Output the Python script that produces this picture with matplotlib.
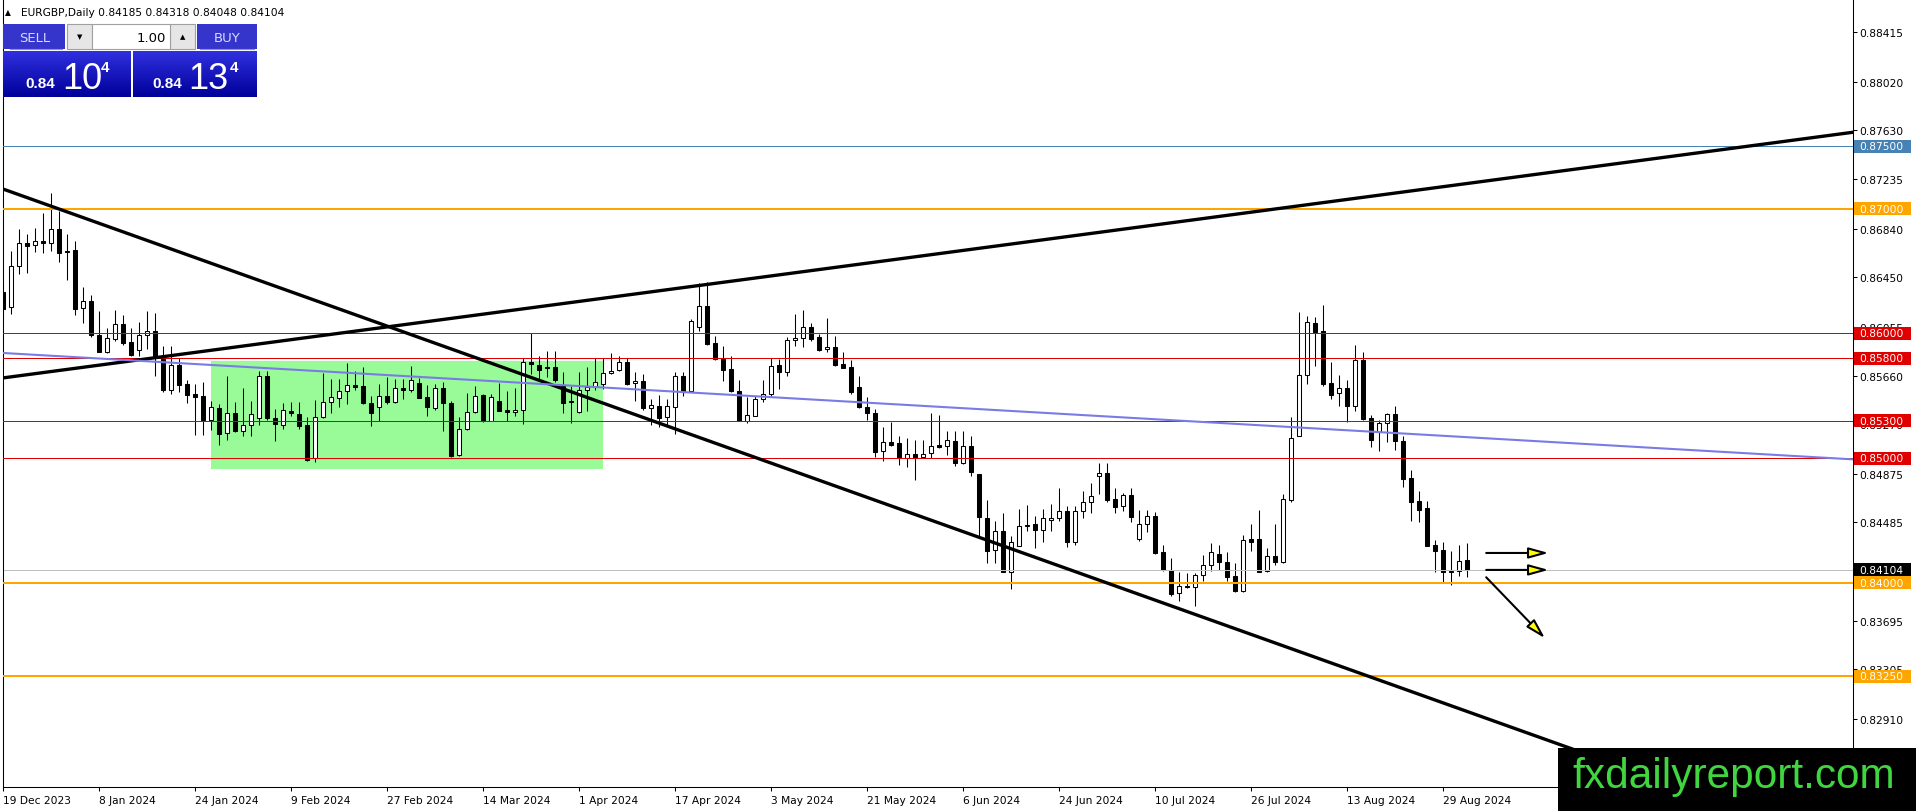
from datetime import datetime
import numpy as np
import pandas as pd
import matplotlib
matplotlib.use("Agg")
import matplotlib.pyplot as plt
from matplotlib.patches import Rectangle

W, H, DPI = 1916, 812, 100
plt.rcParams['font.family'] = ['DejaVu Sans']

# ---- chart data ----
symbol = "EURGBP,Daily"
holidays = ["2023-12-25", "2024-01-01"]
first_day, last_day = "2023-12-19", "2024-09-03"

opens = [0.86332, 0.86209, 0.86538, 0.86723, 0.86709, 0.86741, 0.86723, 0.86837, 0.86663, 0.86669,
         0.86201, 0.86258, 0.85987, 0.85853, 0.85955, 0.86075, 0.85929, 0.85869, 0.85990, 0.86022,
         0.85795, 0.85549, 0.85747, 0.85594, 0.85514, 0.85496, 0.85308, 0.85399, 0.85199, 0.85359,
         0.85220, 0.85268, 0.85319, 0.85661, 0.85319, 0.85268, 0.85375, 0.85354, 0.85266, 0.84998,
         0.85327, 0.85452, 0.85480, 0.85536, 0.85586, 0.85576, 0.85440, 0.85407, 0.85500, 0.85448,
         0.85560, 0.85546, 0.85600, 0.85488, 0.85402, 0.85560, 0.85440, 0.85025, 0.85236, 0.85367,
         0.85508, 0.85300, 0.85456, 0.85386, 0.85367, 0.85386, 0.85773, 0.85747, 0.85733, 0.85728,
         0.85581, 0.85448, 0.85367, 0.85549, 0.85581, 0.85594, 0.85680, 0.85709, 0.85768, 0.85600,
         0.85621, 0.85399, 0.85420, 0.85327, 0.85407, 0.85656, 0.85536, 0.86054, 0.86222, 0.85921,
         0.85800, 0.85715, 0.85541, 0.85295, 0.85340, 0.85474, 0.85514, 0.85747, 0.85688, 0.85947,
         0.85961, 0.86049, 0.85969, 0.85875, 0.85889, 0.85755, 0.85728, 0.85568, 0.85407, 0.85362,
         0.85059, 0.85127, 0.85121, 0.84998, 0.85033, 0.85006, 0.85039, 0.85105, 0.85095, 0.85140,
         0.84958, 0.85095, 0.84872, 0.84520, 0.84263, 0.84413, 0.84089, 0.84298, 0.84454, 0.84472,
         0.84426, 0.84506, 0.84520, 0.84573, 0.84330, 0.84573, 0.84646, 0.84856, 0.84882, 0.84672,
         0.84613, 0.84704, 0.84348, 0.84469, 0.84533, 0.84245, 0.84105, 0.83916, 0.83977, 0.83964,
         0.84065, 0.84145, 0.84231, 0.84165, 0.84057, 0.83937, 0.84351, 0.84351, 0.84097, 0.84213,
         0.84170, 0.84666, 0.85175, 0.85669, 0.86083, 0.86017, 0.85600, 0.85520, 0.85560, 0.85420,
         0.85787, 0.85319, 0.85207, 0.85282, 0.85354, 0.85140, 0.84841, 0.84658, 0.84597, 0.84303,
         0.84263, 0.84084, 0.84097, 0.84185]
highs = [0.86396, 0.86663, 0.86837, 0.86797, 0.86843, 0.86966, 0.87126, 0.86984, 0.86797, 0.86741,
         0.86370, 0.86308, 0.86182, 0.86043, 0.86188, 0.86148, 0.86041, 0.86094, 0.86177, 0.86161,
         0.85901, 0.85901, 0.85800, 0.85629, 0.85594, 0.85613, 0.85460, 0.85434, 0.85656, 0.85452,
         0.85560, 0.85460, 0.85701, 0.85701, 0.85394, 0.85442, 0.85452, 0.85452, 0.85327, 0.85466,
         0.85682, 0.85634, 0.85634, 0.85763, 0.85701, 0.85729, 0.85496, 0.85594, 0.85648, 0.85634,
         0.85634, 0.85737, 0.85640, 0.85586, 0.85594, 0.85608, 0.85460, 0.85327, 0.85520, 0.85576,
         0.85514, 0.85514, 0.85602, 0.85541, 0.85560, 0.85800, 0.86003, 0.85821, 0.85857, 0.85857,
         0.85688, 0.85581, 0.85688, 0.85728, 0.85800, 0.85800, 0.85841, 0.85821, 0.85800, 0.85688,
         0.85675, 0.85474, 0.85506, 0.85474, 0.85693, 0.85688, 0.86116, 0.86404, 0.86409, 0.85977,
         0.85897, 0.85816, 0.85629, 0.85488, 0.85496, 0.85629, 0.85800, 0.85795, 0.85969, 0.86156,
         0.86190, 0.86083, 0.85995, 0.86121, 0.85982, 0.85853, 0.85789, 0.85656, 0.85488, 0.85394,
         0.85247, 0.85287, 0.85175, 0.85159, 0.85148, 0.85148, 0.85362, 0.85346, 0.85220, 0.85220,
         0.85220, 0.85180, 0.84872, 0.84664, 0.84498, 0.84557, 0.84373, 0.84592, 0.84624, 0.84533,
         0.84592, 0.84632, 0.84758, 0.84613, 0.84613, 0.84739, 0.84800, 0.84962, 0.84957, 0.84758,
         0.84720, 0.84758, 0.84584, 0.84586, 0.84570, 0.84303, 0.84196, 0.84089, 0.84079, 0.84079,
         0.84220, 0.84319, 0.84305, 0.84245, 0.84160, 0.84383, 0.84472, 0.84586, 0.84277, 0.84472,
         0.84712, 0.85327, 0.86169, 0.86137, 0.86129, 0.86228, 0.85768, 0.85666, 0.85629, 0.85907,
         0.85848, 0.85346, 0.85308, 0.85362, 0.85418, 0.85180, 0.84904, 0.84734, 0.84654, 0.84346,
         0.84325, 0.84258, 0.84303, 0.84318]
lows = [0.86132, 0.86156, 0.86477, 0.86485, 0.86655, 0.86645, 0.86663, 0.86575, 0.86431, 0.86148,
        0.86084, 0.85969, 0.85849, 0.85843, 0.85937, 0.85907, 0.85821, 0.85821, 0.85875, 0.85661,
        0.85528, 0.85514, 0.85528, 0.85442, 0.85185, 0.85185, 0.85228, 0.85107, 0.85147, 0.85207,
        0.85180, 0.85180, 0.85266, 0.85308, 0.85139, 0.85236, 0.85335, 0.85236, 0.84979, 0.84966,
        0.85319, 0.85362, 0.85407, 0.85434, 0.85549, 0.85434, 0.85260, 0.85295, 0.85434, 0.85442,
        0.85474, 0.85528, 0.85480, 0.85335, 0.85388, 0.85220, 0.85010, 0.85019, 0.85226, 0.85362,
        0.85287, 0.85295, 0.85375, 0.85300, 0.85335, 0.85273, 0.85675, 0.85634, 0.85648, 0.85613,
        0.85362, 0.85282, 0.85362, 0.85380, 0.85549, 0.85554, 0.85675, 0.85701, 0.85586, 0.85460,
        0.85388, 0.85266, 0.85247, 0.85260, 0.85193, 0.85496, 0.85528, 0.86022, 0.85907, 0.85789,
        0.85621, 0.85528, 0.85295, 0.85282, 0.85335, 0.85452, 0.85500, 0.85554, 0.85656, 0.85901,
        0.85889, 0.85941, 0.85861, 0.85849, 0.85736, 0.85720, 0.85514, 0.85399, 0.85308, 0.85006,
        0.84979, 0.85099, 0.84945, 0.84926, 0.84822, 0.84998, 0.84998, 0.85079, 0.85025, 0.84939,
        0.84953, 0.84854, 0.84365, 0.84157, 0.84157, 0.84084, 0.83954, 0.84293, 0.84418, 0.84276,
        0.84325, 0.84418, 0.84498, 0.84284, 0.84303, 0.84517, 0.84560, 0.84712, 0.84646, 0.84560,
        0.84578, 0.84490, 0.84337, 0.84405, 0.84231, 0.84097, 0.83892, 0.83856, 0.83956, 0.83811,
        0.84011, 0.84097, 0.84105, 0.84011, 0.83924, 0.83929, 0.84258, 0.84089, 0.84084, 0.84143,
        0.84159, 0.84646, 0.85175, 0.85594, 0.85736, 0.85576, 0.85474, 0.85415, 0.85287, 0.85380,
        0.85306, 0.85087, 0.85059, 0.85132, 0.85067, 0.84766, 0.84498, 0.84485, 0.84293, 0.84084,
        0.84009, 0.83982, 0.84051, 0.84048]
closes = [0.86196, 0.86538, 0.86723, 0.86699, 0.86739, 0.86725, 0.86837, 0.86645, 0.86651, 0.86196,
          0.86258, 0.85987, 0.85853, 0.85961, 0.86075, 0.85923, 0.85827, 0.85990, 0.86022, 0.85800,
          0.85549, 0.85747, 0.85589, 0.85508, 0.85492, 0.85308, 0.85407, 0.85193, 0.85359, 0.85220,
          0.85268, 0.85351, 0.85656, 0.85319, 0.85273, 0.85386, 0.85359, 0.85260, 0.84987, 0.85327,
          0.85448, 0.85488, 0.85536, 0.85586, 0.85573, 0.85440, 0.85359, 0.85500, 0.85448, 0.85560,
          0.85546, 0.85626, 0.85484, 0.85407, 0.85560, 0.85442, 0.85014, 0.85236, 0.85367, 0.85500,
          0.85300, 0.85488, 0.85380, 0.85367, 0.85386, 0.85768, 0.85755, 0.85709, 0.85720, 0.85626,
          0.85440, 0.85460, 0.85549, 0.85568, 0.85608, 0.85680, 0.85701, 0.85768, 0.85594, 0.85621,
          0.85402, 0.85428, 0.85319, 0.85415, 0.85656, 0.85528, 0.86102, 0.86222, 0.85915, 0.85795,
          0.85709, 0.85536, 0.85295, 0.85346, 0.85474, 0.85514, 0.85736, 0.85688, 0.85947, 0.85963,
          0.86049, 0.85955, 0.85869, 0.85889, 0.85747, 0.85723, 0.85528, 0.85407, 0.85359, 0.85051,
          0.85127, 0.85107, 0.84998, 0.85033, 0.84998, 0.85033, 0.85100, 0.85092, 0.85148, 0.84958,
          0.85095, 0.84886, 0.84525, 0.84257, 0.84418, 0.84089, 0.84325, 0.84454, 0.84464, 0.84426,
          0.84517, 0.84520, 0.84573, 0.84330, 0.84573, 0.84646, 0.84694, 0.84877, 0.84666, 0.84610,
          0.84704, 0.84530, 0.84469, 0.84533, 0.84239, 0.84105, 0.83910, 0.83972, 0.83964, 0.84065,
          0.84145, 0.84244, 0.84165, 0.84044, 0.83937, 0.84346, 0.84325, 0.84089, 0.84213, 0.84170,
          0.84672, 0.85159, 0.85669, 0.86089, 0.86014, 0.85594, 0.85508, 0.85560, 0.85420, 0.85787,
          0.85314, 0.85148, 0.85282, 0.85354, 0.85140, 0.84833, 0.84646, 0.84586, 0.84298, 0.84258,
          0.84084, 0.84097, 0.84177, 0.84104]

# horizontal levels drawn on the chart
level_prices = [0.87500, 0.87000, 0.86000, 0.85800, 0.85300, 0.85000, 0.84000, 0.83250]
level_colors = ['#4682B4', '#FFA500', '#E00000', '#E00000', '#E00000', '#E00000', '#FFA500', '#FFA500']
level_widths = [1.0, 2.0, 1.0, 1.0, 1.0, 1.0, 2.0, 2.0]

# trend lines as (bar, price) anchor pairs
trend_down = [(0, 0.87158), (200, 0.82579)]
trend_up = [(0, 0.85643), (200, 0.87347)]
trend_mid = [(0, 0.85843), (200, 0.85105)]

# consolidation box: bar range and price range
box_bars = (26, 75)
box_prices = (0.84913, 0.85779)

# arrows: (start bar, start price) -> (end bar, end price)
arrows = [((185.4, 0.84239), (193.2, 0.84239)),
          ((185.4, 0.84103), (193.2, 0.84103)),
          ((185.4, 0.84044), (192.75, 0.83555))]

price_ticks = [0.88415, 0.88020, 0.87630, 0.87235, 0.86840, 0.86450, 0.86055, 0.85660,
               0.85270, 0.84875, 0.84485, 0.84090, 0.83695, 0.83305, 0.82910]
date_labels = ["19 Dec 2023", "8 Jan 2024", "24 Jan 2024", "9 Feb 2024", "27 Feb 2024",
               "14 Mar 2024", "1 Apr 2024", "17 Apr 2024", "3 May 2024", "21 May 2024",
               "6 Jun 2024", "24 Jun 2024", "10 Jul 2024", "26 Jul 2024", "13 Aug 2024",
               "29 Aug 2024"]

# ---- trading days -> bar index ----
dates = pd.bdate_range(first_day, last_day)
dates = dates[~dates.isin(pd.to_datetime(holidays))]
date_pos = [dates.get_loc(pd.Timestamp(datetime.strptime(s, "%d %b %Y"))) for s in date_labels]

o = np.array(opens)
h = np.array(highs)
l = np.array(lows)
c = np.array(closes)
x = np.arange(len(o))
bull = c >= o

fig = plt.figure(figsize=(W / DPI, H / DPI), dpi=DPI)
fig.patch.set_facecolor('white')
ax = fig.add_axes([2.7 / W, 24 / H, (1853 - 2.7) / W, 788 / H])
ax.set_xlim(-0.04, 231.25)
ax.set_ylim(0.82362, 0.88682)

# green box behind the candles
ax.add_patch(Rectangle((box_bars[0], box_prices[0]), box_bars[1] - box_bars[0],
                       box_prices[1] - box_prices[0], facecolor='#98FB98',
                       edgecolor='none', zorder=0.5))

# candles
ax.vlines(x, l, h, color='black', linewidth=0.75, zorder=1.9)
body = np.maximum(np.abs(c - o), 0.000012)
ax.bar(x, body, bottom=np.minimum(o, c), width=0.5,
       color=np.where(bull, 'white', 'black'), edgecolor='black',
       linewidth=0.75, zorder=2)

# levels and current bid
for p, col, lw in zip(level_prices, level_colors, level_widths):
    ax.axhline(p, color=col, linewidth=lw * 0.72, zorder=3)
ax.axhline(c[-1], color='#C0C0C0', linewidth=0.72, zorder=2.5)

# trend lines
for pts, col, lw in [(trend_down, 'black', 2.4), (trend_up, 'black', 2.4),
                     (trend_mid, '#7B7BE6', 1.5)]:
    ax.axline(pts[0], pts[1], color=col, linewidth=lw, zorder=4)

for start, end in arrows:
    ax.annotate("", xy=end, xytext=start, annotation_clip=False,
                arrowprops=dict(arrowstyle="-|>,head_length=12,head_width=3.3",
                                mutation_scale=1, fc='#FFFF00', ec='black',
                                lw=1.5, shrinkA=0, shrinkB=0), zorder=5)

# axes styling like the terminal
for side in ['left', 'bottom', 'right']:
    ax.spines[side].set_color('black')
    ax.spines[side].set_linewidth(0.75)
ax.spines['top'].set_visible(False)
ax.yaxis.tick_right()
ax.set_yticks(price_ticks)
ax.set_yticklabels(["%.5f" % v for v in price_ticks])
ax.set_xticks(date_pos)
ax.set_xticklabels(date_labels, ha='left')
ax.tick_params(axis='y', direction='out', length=3, width=0.75, pad=1.5, labelsize=7.7)
ax.tick_params(axis='x', direction='out', length=3, width=0.75, pad=2.5, labelsize=7.7)

# ---- overlay in pixel coordinates (labels, panel, watermark) ----
over = fig.add_axes([0, 0, 1, 1], zorder=10)
over.set_axis_off()
over.patch.set_visible(False)


def price_px(p):
    return H - ax.transData.transform((0, p))[1]


tags = list(zip(level_prices, level_colors)) + [(c[-1], 'black')]
for p, col in tags:
    yp = price_px(p)
    over.add_patch(Rectangle((1854, yp - 6.5), 57, 13, facecolor=col, edgecolor='none'))
    over.text(1859, yp, "%.5f" % p, color='white', fontsize=7.7, va='center', ha='left')

# header line
over.text(5, 13, "\u25B2", fontsize=5.5, va='center', ha='left')
over.text(21, 13, "%s %.5f %.5f %.5f %.5f" % (symbol, o[-1], h[-1], l[-1], c[-1]),
          fontsize=7.7, va='center', ha='left')

# one-click trading panel
top_blue = '#3535CC'
over.add_patch(Rectangle((3, 25), 62, 25, facecolor=top_blue, edgecolor='none'))
over.add_patch(Rectangle((197, 25), 60, 25, facecolor=top_blue, edgecolor='none'))
over.plot([10, 62], [49.5, 49.5], color='#8C8CF0', lw=0.8)
over.plot([200, 254], [49.5, 49.5], color='#8C8CF0', lw=0.8)
over.text(35, 38, "SELL", color='#D8D8FF', fontsize=9.5, ha='center', va='center')
over.text(227, 38, "BUY", color='#D8D8FF', fontsize=9.5, ha='center', va='center')
for bx in (67, 170):
    over.add_patch(Rectangle((bx, 25), 25, 25, facecolor='#E6E6E6', edgecolor='#A0A0A0', lw=0.8))
over.add_patch(Rectangle((92, 25), 78, 25, facecolor='white', edgecolor='#A0A0A0', lw=0.8))
over.text(79.5, 37.5, "\u25BC", fontsize=5, ha='center', va='center')
over.text(182.5, 37.5, "\u25B2", fontsize=5, ha='center', va='center')
over.text(166, 38, "1.00", fontsize=9.5, ha='right', va='center')

grad = np.linspace(0, 1, 46)[:, None, None]
c_top = np.array([0x30, 0x30, 0xE0]) / 255
c_bot = np.array([0x00, 0x00, 0x9A]) / 255
grad_rgb = np.repeat(c_top + (c_bot - c_top) * grad, 2, axis=1)
for x0, x1 in [(3, 131), (133, 257)]:
    over.imshow(grad_rgb, extent=(x0, x1, 98, 52), aspect='auto', interpolation='bilinear')

bid_txt, ask_txt = ("10", "4"), ("13", "4")
for (big, sup), x_small, x_big, x_sup in [(bid_txt, 25, 62, 101), (ask_txt, 152, 188, 230)]:
    over.text(x_small, 88, "0.84", color='white', fontsize=11, fontweight='bold',
              family='Liberation Sans', va='baseline')
    over.text(x_big, 89, big, color='white', fontsize=26, family='Liberation Sans', va='baseline')
    over.text(x_sup, 72, sup, color='white', fontsize=11, fontweight='bold',
              family='Liberation Sans', va='baseline')

# watermark
over.add_patch(Rectangle((1558, 749), W - 1558, H - 749, facecolor='black', edgecolor='none'))
over.text(1572, 788, "fxdailyreport.com", color='#3FD63F', fontsize=30.5,
          family='Liberation Sans', va='baseline', ha='left')

over.set_xlim(0, W)
over.set_ylim(H, 0)

fig.savefig("out.png", dpi=DPI, facecolor='white')
